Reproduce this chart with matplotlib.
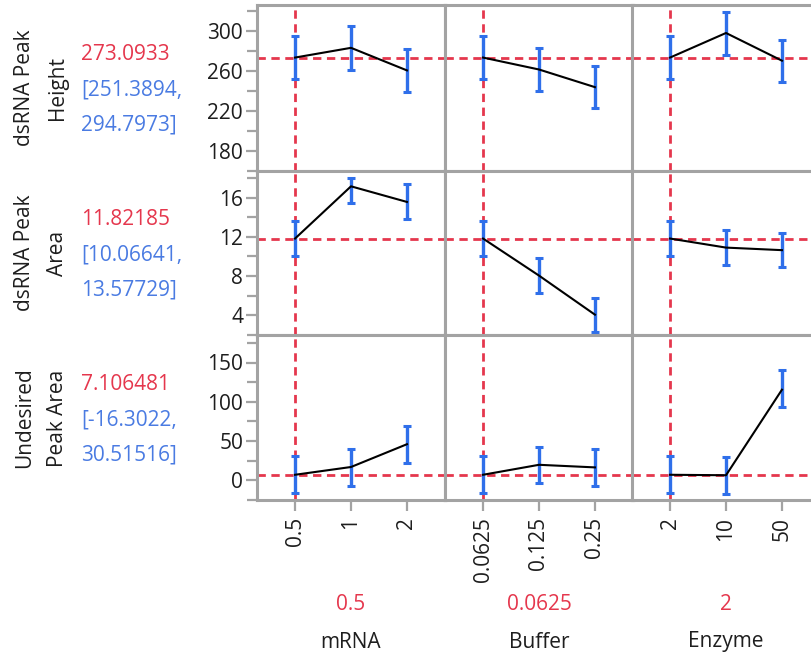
import numpy as np
import matplotlib.pyplot as plt

plt.rcParams['font.family'] = ['Open Sans', 'DejaVu Sans']

# factors and their levels
factors = ["mRNA", "Buffer", "Enzyme"]
level_labels = [["0.5", "1", "2"], ["0.0625", "0.125", "0.25"], ["2", "10", "50"]]
current_setting = ["0.5", "0.0625", "2"]

# responses
response_lines = [("dsRNA Peak", "Height"), ("dsRNA Peak", "Area"), ("Undesired", "Peak Area")]
current_value = [273.0933, 11.82185, 7.106481]
current_ci = [("[251.3894,", "294.7973]"), ("[10.06641,", "13.57729]"), ("[-16.3022,", "30.51516]")]

# predicted values per factor level (rows: response, then factor)
height_mid = [[273.0933, 282.8, 260.3], [273.0933, 261.2, 243.6], [273.0933, 297.6, 270.0]]
height_lo = [[251.3894, 261.0, 239.0], [251.3894, 240.0, 223.0], [251.3894, 276.0, 249.0]]
height_hi = [[294.7973, 304.5, 282.0], [294.7973, 283.0, 265.0], [294.7973, 319.0, 290.6]]

area_mid = [[11.82185, 17.14, 15.55], [11.82185, 8.05, 4.07], [11.82185, 10.9, 10.64]]
area_lo = [[10.06641, 15.4, 13.8], [10.06641, 6.3, 2.3], [10.06641, 9.1, 8.9]]
area_hi = [[13.57729, 18.0, 17.36], [13.57729, 9.8, 5.8], [13.57729, 12.7, 12.4]]

undes_mid = [[7.106481, 17.0, 46.0], [7.106481, 19.8, 16.5], [7.106481, 6.5, 115.4]]
undes_lo = [[-16.3022, -6.9, 22.6], [-16.3022, -3.6, -6.9], [-16.3022, -16.9, 93.0]]
undes_hi = [[30.51516, 40.3, 69.0], [30.51516, 42.8, 40.0], [30.51516, 29.9, 140.0]]

mids = [height_mid, area_mid, undes_mid]
los = [height_lo, area_lo, undes_lo]
his = [height_hi, area_hi, undes_hi]

y_limits = [(174.5, 325.5), (3.05, 18.7), (-14.5, 185)]
y_major = [[180, 220, 260, 300], [4, 8, 12, 16], [0, 50, 100, 150]]
y_minor = [20, 2, 25]

RED = "#e5374d"
BLUE = "#2f6fea"
BLUE_TXT = "#4a7be2"
GRAY = "#a3a3a3"
TXT = "#1e1e1e"
FS = 15

W, H = 812, 658
fig = plt.figure(figsize=(W / 100, H / 100), dpi=100)

col_left = [257, 445, 632]
col_w = 188
row_top = [5, 171, 335]
row_bot = [171, 335, 500]


def px_rect(x0, y0, x1, y1):
    return [x0 / W, 1 - y1 / H, (x1 - x0) / W, (y1 - y0) / H]


for r in range(3):
    for c in range(3):
        ax = fig.add_axes(px_rect(col_left[c], row_top[r], col_left[c] + col_w, row_bot[r]))
        x = np.arange(3)
        mid = np.array(mids[r][c])
        lo = np.array(los[r][c])
        hi = np.array(his[r][c])
        ax.axhline(current_value[r], color=RED, lw=2, dashes=(3, 2), zorder=1)
        ax.axvline(0, color=RED, lw=2, dashes=(3, 2), zorder=1)
        ax.errorbar(x, mid, yerr=[mid - lo, hi - mid], fmt='none', ecolor=BLUE,
                    elinewidth=2.4, capsize=3.2, capthick=2.2, zorder=2)
        ax.plot(x, mid, color='black', lw=1.5, zorder=3)
        ax.set_xlim(-0.68, 2.68)
        ax.set_ylim(*y_limits[r])
        for s in ax.spines.values():
            s.set_color(GRAY)
            s.set_linewidth(2.2)
        ax.set_yticks(y_major[r])
        ax.set_yticks(np.arange(y_major[r][0] - y_minor[r], y_limits[r][1], y_minor[r] * 2), minor=True)
        ax.tick_params(axis='both', colors=GRAY, labelcolor=TXT, labelsize=FS, width=1.6)
        ax.tick_params(axis='y', which='major', length=8, pad=2)
        ax.tick_params(axis='y', which='minor', length=7, width=1.6, colors=GRAY)
        if c > 0:
            ax.tick_params(axis='y', which='both', left=False, labelleft=False)
        ax.set_xticks(x)
        if r == 2:
            ax.set_xticklabels(level_labels[c], rotation=90)
            ax.tick_params(axis='x', length=8, pad=4)
        else:
            ax.tick_params(axis='x', bottom=False, labelbottom=False)

# left response labels and current values
row_center = [88, 253, 418]
for r in range(3):
    yc = 1 - row_center[r] / H
    fig.text(25 / W, yc, response_lines[r][0], rotation=90, ha='center', va='center',
             fontsize=FS, color=TXT)
    fig.text(58 / W, yc, response_lines[r][1], rotation=90, ha='center', va='center',
             fontsize=FS, color=TXT)
    fig.text(81 / W, 1 - (row_center[r] - 34) / H, f"{current_value[r]:.7g}", ha='left',
             va='center', fontsize=FS, color=RED)
    fig.text(81 / W, 1 - (row_center[r] + 2) / H, current_ci[r][0], ha='left',
             va='center', fontsize=FS, color=BLUE_TXT)
    fig.text(81 / W, 1 - (row_center[r] + 37) / H, current_ci[r][1], ha='left',
             va='center', fontsize=FS, color=BLUE_TXT)

# bottom factor names and current settings
for c in range(3):
    xc = (col_left[c] + 94) / W
    fig.text(xc, 1 - 605 / H, current_setting[c], ha='center', va='center', fontsize=FS, color=RED)
    fig.text(xc, 1 - 642 / H, factors[c], ha='center', va='center', fontsize=FS, color=TXT)

fig.savefig("out.png", dpi=100)
